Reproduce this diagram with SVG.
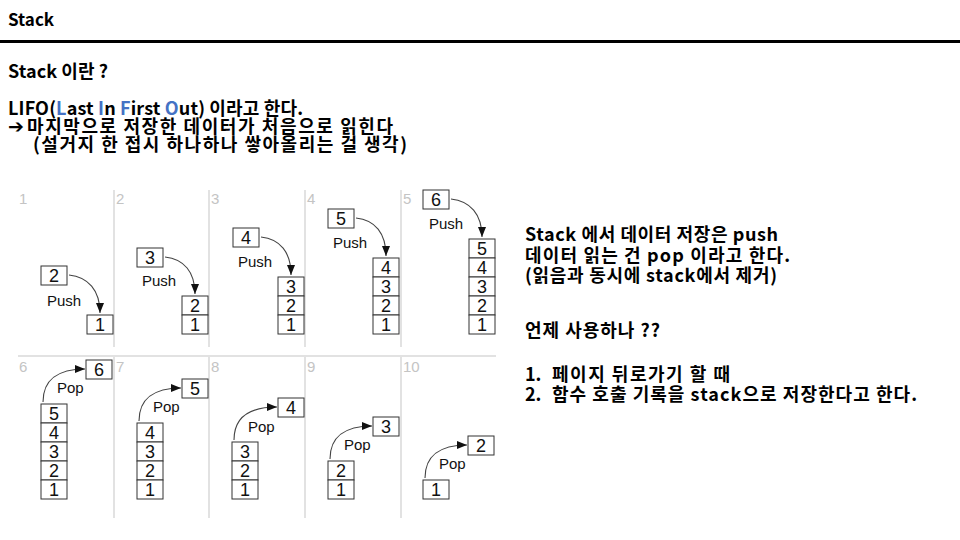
<svg xmlns="http://www.w3.org/2000/svg" width="960" height="540" viewBox="0 0 960 540">
<style>
.t{font-family:"Noto Sans CJK KR","Noto Sans",sans-serif;font-weight:bold;font-size:18px;fill:#000}
.h{font-size:17px}
.b{fill:#4472C4}
.lbl{font-family:"Liberation Sans",Arial,sans-serif;font-size:15px;fill:#c4c4c4}
.sep{stroke:#d9d9d9;stroke-width:1.5;fill:none}
.cell{fill:#fff;stroke:#333;stroke-width:1}
.d{font-family:"Liberation Sans",Arial,sans-serif;font-size:18px;fill:#111;text-anchor:middle}
.op{font-family:"Liberation Sans",Arial,sans-serif;font-size:15px;fill:#111}
.arr{fill:none;stroke:#444;stroke-width:1.1;marker-end:url(#ah)}
</style>
<defs>
<marker id="ah" viewBox="0 0 10 8" refX="10" refY="4" markerWidth="10" markerHeight="8" markerUnits="userSpaceOnUse" orient="auto">
<path d="M0,0 L10,4 L0,8 z" fill="#111"/>
</marker>
</defs>
<rect x="0" y="0" width="960" height="540" fill="#fff"/>

<g id="header">
<text class="t h" x="8" y="26">Stack</text>
<line x1="0" y1="41.5" x2="960" y2="41.5" stroke="#000" stroke-width="3"/>
</g>

<g id="intro">
<text class="t" x="8" y="78" textLength="100">Stack 이란 ?</text>
<text class="t" x="8" y="115" textLength="295">LIFO(<tspan class="b">L</tspan>ast <tspan class="b">I</tspan>n <tspan class="b">F</tspan>irst <tspan class="b">O</tspan>ut) 이라고 한다.</text>
<text class="t" x="8" y="133"><tspan font-family="DejaVu Sans" font-size="19">➔</tspan><tspan x="27" textLength="366">마지막으로 저장한 데이터가 처음으로 읽힌다</tspan></text>
<text class="t" x="33" y="151" textLength="374">(설거지 한 접시 하나하나 쌓아올리는 걸 생각)</text>
</g>

<g id="grid">
<line class="sep" x1="114" y1="190" x2="114" y2="347"/>
<line class="sep" x1="209" y1="190" x2="209" y2="347"/>
<line class="sep" x1="305" y1="190" x2="305" y2="347"/>
<line class="sep" x1="401" y1="190" x2="401" y2="347"/>
<line class="sep" x1="18" y1="356" x2="496" y2="356"/>
<line class="sep" x1="114" y1="357" x2="114" y2="518"/>
<line class="sep" x1="209" y1="357" x2="209" y2="518"/>
<line class="sep" x1="305" y1="357" x2="305" y2="518"/>
<line class="sep" x1="401" y1="357" x2="401" y2="518"/>
<text class="lbl" x="19" y="204">1</text>
<text class="lbl" x="116" y="204">2</text>
<text class="lbl" x="211" y="204">3</text>
<text class="lbl" x="307" y="204">4</text>
<text class="lbl" x="403" y="204">5</text>
<text class="lbl" x="19" y="372">6</text>
<text class="lbl" x="116" y="372">7</text>
<text class="lbl" x="211" y="372">8</text>
<text class="lbl" x="307" y="372">9</text>
<text class="lbl" x="403" y="372">10</text>
</g>

<g id="step1">
<rect class="cell" x="41" y="266" width="26" height="19"/><text class="d" x="54" y="282">2</text>
<text class="op" x="47" y="306">Push</text>
<rect class="cell" x="87" y="315" width="26" height="19"/><text class="d" x="100" y="331">1</text>
</g>
<g id="step2">
<rect class="cell" x="137" y="248" width="26" height="19"/><text class="d" x="150" y="264">3</text>
<text class="op" x="142" y="286">Push</text>
<rect class="cell" x="182" y="296" width="26" height="19"/><text class="d" x="195" y="312">2</text>
<rect class="cell" x="182" y="315" width="26" height="19"/><text class="d" x="195" y="331">1</text>
</g>
<g id="step3">
<rect class="cell" x="233" y="228" width="26" height="19"/><text class="d" x="246" y="244">4</text>
<text class="op" x="238" y="267">Push</text>
<rect class="cell" x="278" y="277" width="26" height="19"/><text class="d" x="291" y="293">3</text>
<rect class="cell" x="278" y="296" width="26" height="19"/><text class="d" x="291" y="312">2</text>
<rect class="cell" x="278" y="315" width="26" height="19"/><text class="d" x="291" y="331">1</text>
</g>
<g id="step4">
<rect class="cell" x="328" y="209" width="26" height="19"/><text class="d" x="341" y="225">5</text>
<text class="op" x="333" y="248">Push</text>
<rect class="cell" x="373" y="258" width="26" height="19"/><text class="d" x="386" y="274">4</text>
<rect class="cell" x="373" y="277" width="26" height="19"/><text class="d" x="386" y="293">3</text>
<rect class="cell" x="373" y="296" width="26" height="19"/><text class="d" x="386" y="312">2</text>
<rect class="cell" x="373" y="315" width="26" height="19"/><text class="d" x="386" y="331">1</text>
</g>
<g id="step5">
<rect class="cell" x="423" y="190" width="26" height="19"/><text class="d" x="436" y="206">6</text>
<text class="op" x="429" y="229">Push</text>
<rect class="cell" x="469" y="239" width="26" height="19"/><text class="d" x="482" y="255">5</text>
<rect class="cell" x="469" y="258" width="26" height="19"/><text class="d" x="482" y="274">4</text>
<rect class="cell" x="469" y="277" width="26" height="19"/><text class="d" x="482" y="293">3</text>
<rect class="cell" x="469" y="296" width="26" height="19"/><text class="d" x="482" y="312">2</text>
<rect class="cell" x="469" y="315" width="26" height="19"/><text class="d" x="482" y="331">1</text>
</g>

<g id="step6">
<rect class="cell" x="86" y="360" width="26" height="19"/><text class="d" x="99" y="376">6</text>
<text class="op" x="57" y="393">Pop</text>
<rect class="cell" x="41" y="404" width="26" height="19"/><text class="d" x="54" y="420">5</text>
<rect class="cell" x="41" y="423" width="26" height="19"/><text class="d" x="54" y="439">4</text>
<rect class="cell" x="41" y="442" width="26" height="19"/><text class="d" x="54" y="458">3</text>
<rect class="cell" x="41" y="461" width="26" height="19"/><text class="d" x="54" y="477">2</text>
<rect class="cell" x="41" y="480" width="26" height="19"/><text class="d" x="54" y="496">1</text>
</g>
<g id="step7">
<rect class="cell" x="182" y="379" width="26" height="19"/><text class="d" x="195" y="395">5</text>
<text class="op" x="153" y="412">Pop</text>
<rect class="cell" x="137" y="423" width="26" height="19"/><text class="d" x="150" y="439">4</text>
<rect class="cell" x="137" y="442" width="26" height="19"/><text class="d" x="150" y="458">3</text>
<rect class="cell" x="137" y="461" width="26" height="19"/><text class="d" x="150" y="477">2</text>
<rect class="cell" x="137" y="480" width="26" height="19"/><text class="d" x="150" y="496">1</text>
</g>
<g id="step8">
<rect class="cell" x="278" y="398" width="26" height="19"/><text class="d" x="291" y="414">4</text>
<text class="op" x="248" y="432">Pop</text>
<rect class="cell" x="232" y="442" width="26" height="19"/><text class="d" x="245" y="458">3</text>
<rect class="cell" x="232" y="461" width="26" height="19"/><text class="d" x="245" y="477">2</text>
<rect class="cell" x="232" y="480" width="26" height="19"/><text class="d" x="245" y="496">1</text>
</g>
<g id="step9">
<rect class="cell" x="373" y="417" width="26" height="19"/><text class="d" x="386" y="433">3</text>
<text class="op" x="344" y="450">Pop</text>
<rect class="cell" x="328" y="461" width="26" height="19"/><text class="d" x="341" y="477">2</text>
<rect class="cell" x="328" y="480" width="26" height="19"/><text class="d" x="341" y="496">1</text>
</g>
<g id="step10">
<rect class="cell" x="468" y="436" width="26" height="19"/><text class="d" x="481" y="452">2</text>
<text class="op" x="439" y="469">Pop</text>
<rect class="cell" x="423" y="480" width="26" height="19"/><text class="d" x="436" y="496">1</text>
</g>

<g id="connectors">
<path class="arr" d="M69,275 C88,277 100,290 100,313"/>
<path class="arr" d="M165,257 C184,259 195,272 195,294"/>
<path class="arr" d="M261,237 C280,239 291,252 291,275"/>
<path class="arr" d="M356,218 C375,220 386,233 386,256"/>
<path class="arr" d="M451,199 C470,201 482,214 482,237"/>
<path class="arr" d="M43,402 C43,380 58,369 85,369"/>
<path class="arr" d="M139,421 C139,399 154,388 181,388"/>
<path class="arr" d="M234,440 C234,418 249,407 277,407"/>
<path class="arr" d="M330,459 C330,437 345,426 372,426"/>
<path class="arr" d="M425,478 C425,456 440,445 467,445"/>
</g>

<g id="explain">
<text class="t" x="525" y="241" textLength="253">Stack 에서 데이터 저장은 push</text>
<text class="t" x="525" y="262" textLength="265">데이터 읽는 건 pop 이라고 한다.</text>
<text class="t" x="525" y="282" textLength="252">(읽음과 동시에 stack에서 제거)</text>
<text class="t" x="525" y="337" textLength="135">언제 사용하나 ??</text>
<text class="t" x="525" y="381">1.<tspan x="552" textLength="178">페이지 뒤로가기 할 때</tspan></text>
<text class="t" x="525" y="401">2.<tspan x="552" textLength="365">함수 호출 기록을 stack으로 저장한다고 한다.</tspan></text>
</g>
</svg>
